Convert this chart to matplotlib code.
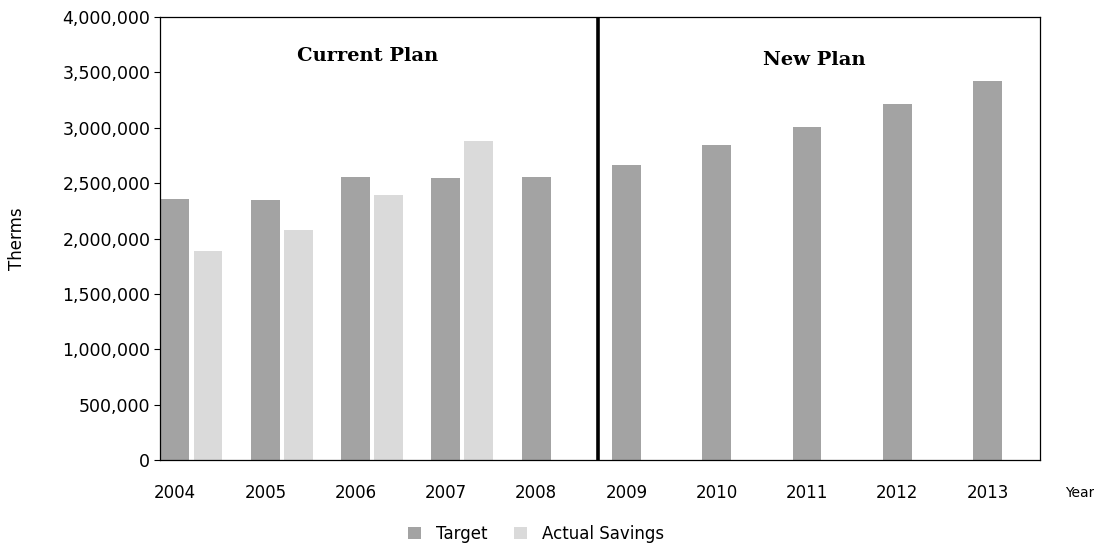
import matplotlib.pyplot as plt
import numpy as np

plt.rcParams['font.family'] = ['DejaVu Sans']

years = ['2004', '2005', '2006', '2007', '2008', '2009', '2010', '2011', '2012', '2013']
target = [2355000, 2350000, 2555000, 2550000, 2555000, 2660000, 2845000, 3005000, 3215000, 3420000]
actual = [1885000, 2075000, 2390000, 2880000, None, None, None, None, None, None]

x = np.arange(len(years))
w = 0.32

fig = plt.figure(figsize=(10.94, 5.5), dpi=100)
ax = fig.add_axes([0.1463, 0.1636, 0.8043, 0.8054])

ax.bar(x, target, w, color='#a3a3a3', label='Target', zorder=2)
xa = [i + 0.365 for i, v in zip(x, actual) if v is not None]
va = [v for v in actual if v is not None]
ax.bar(xa, va, w, color='#dadada', label='Actual Savings', zorder=2)

ax.set_xlim(-0.166, 9.58)
ax.set_ylim(0, 4000000)
ax.set_yticks(np.arange(0, 4000001, 500000))
ax.set_yticklabels([f'{int(v):,}' for v in np.arange(0, 4000001, 500000)], fontsize=12.5)
ax.set_xticks(x)
ax.set_xticklabels(years, fontsize=12)
ax.tick_params(axis='x', length=0, pad=17)
ax.tick_params(axis='y', length=4, width=0.8, pad=3)
for s in ax.spines.values():
    s.set_linewidth(0.9)

ax.set_ylabel('Therms', fontsize=12, labelpad=26)
ax.text(1.0455, -0.075, 'Year', transform=ax.transAxes, fontsize=10, ha='center', va='center')

ax.axvline(4.68, color='black', lw=2.6, zorder=3)
ax.text(2.13, 3650000, 'Current Plan', family='DejaVu Serif', fontweight='bold', fontsize=14,
        ha='center', va='center')
ax.text(7.08, 3610000, 'New Plan', family='DejaVu Serif', fontweight='bold', fontsize=14,
        ha='center', va='center')

fig.legend(loc='lower center', bbox_to_anchor=(0.49, -0.014), ncol=2, frameon=False, fontsize=12,
           handlelength=0.8, handleheight=0.8, handletextpad=0.9, columnspacing=1.6)

fig.savefig('out.png', dpi=100)
